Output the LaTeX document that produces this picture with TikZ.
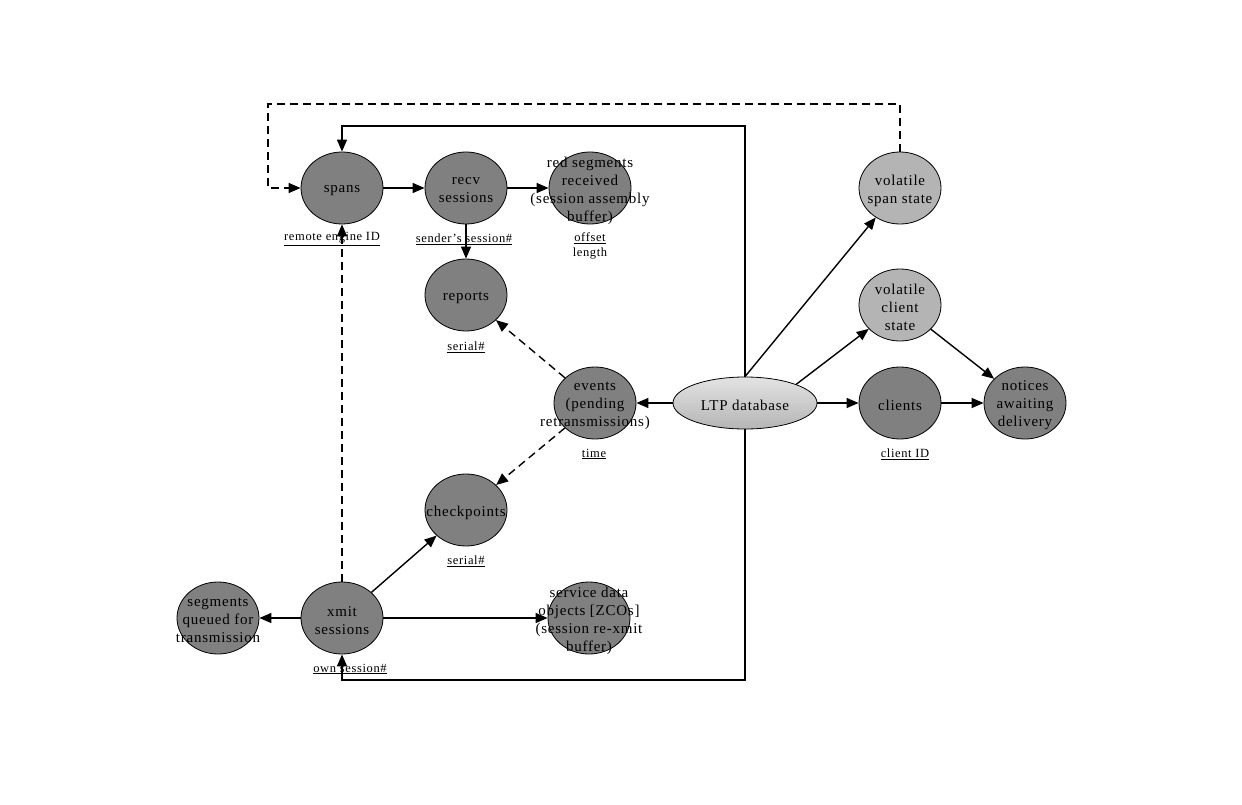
\documentclass[tikz,border=0pt]{standalone}
\usepackage{fontspec}
\setmainfont{Liberation Serif}[LetterSpace=5]
\usetikzlibrary{shapes.geometric,arrows.meta}
\definecolor{darkbub}{RGB}{128,128,128}
\definecolor{lightbub}{RGB}{180,180,180}
\begin{document}
\begin{tikzpicture}[x=1pt,y=-1pt,
  bub/.style={ellipse,draw=black,line width=0.8pt,fill=darkbub,minimum width=82pt,minimum height=72pt,inner sep=0pt},
  lbub/.style={bub,fill=lightbub},
  txt/.style={align=center,font=\fontsize{15}{18}\selectfont,inner sep=0pt,yshift=-2.5pt},
  lab/.style={font=\fontsize{12.5}{15}\selectfont,inner sep=0pt,align=center,yshift=-3pt},
  arr/.style={line width=1.4pt,-{Triangle[length=12pt,width=10pt]}},
  darr/.style={arr,dash pattern=on 8pt off 5pt}]
\useasboundingbox (0,0) rectangle (1242,805);
% nodes
\node[bub] (spans) at (342,188) {};
\node[bub] (recv) at (466,188) {};
\node[bub] (red) at (590,188) {};
\node[bub] (reports) at (466,295) {};
\node[bub] (events) at (595,403) {};
\node[ellipse,draw=black,line width=0.8pt,top color=gray!22,bottom color=gray!58,minimum width=144pt,minimum height=52pt,inner sep=0pt] (db) at (745,403) {};
\node[bub] (clients) at (900,403) {};
\node[bub] (notices) at (1025,403) {};
\node[lbub] (vclient) at (900,305) {};
\node[lbub] (vspan) at (900,188) {};
\node[bub] (check) at (466,510) {};
\node[bub] (xmit) at (342,618) {};
\node[bub] (queued) at (218,618) {};
\node[bub] (sdo) at (589,618) {};
% texts
\node[txt] (t1) at (spans) {spans};
\node[txt] (t2) at (recv) {recv\\sessions};
\node[txt] (t3) at (590,188) {red segments\\received\\(session assembly\\buffer)};
\node[txt] (t4) at (reports) {reports};
\node[txt] (t5) at (events) {events\\(pending\\retransmissions)};
\node[txt] (t6) at (db) {LTP database};
\node[txt] (t7) at (clients) {clients};
\node[txt] (t8) at (notices) {notices\\awaiting\\delivery};
\node[txt] (t9) at (vclient) {volatile\\client\\state};
\node[txt] (t10) at (vspan) {volatile\\span state};
\node[txt] (t11) at (check) {checkpoints};
\node[txt] (t12) at (xmit) {xmit\\sessions};
\node[txt] (t13) at (queued) {segments\\queued for\\transmission};
\node[txt] (t14) at (sdo) {service data\\objects [ZCOs]\\(session re-xmit\\buffer)};
% labels
\node[lab] (l1) at (332,236) {\underline{remote engine ID}};
\node[lab] (l2) at (464,236) {\underline{sender's session\#}};
\node[lab] (l3) at (590,243) {\underline{offset}\\length};
\node[lab] (l4) at (466,344) {\underline{serial\#}};
\node[lab] (l5) at (594,451) {\underline{time}};
\node[lab] (l6) at (905,451) {\underline{client ID}};
\node[lab] (l7) at (466,558) {\underline{serial\#}};
\node[lab] (l8) at (350,666) {\underline{own session\#}};
% frame coordinates
\coordinate (tr) at (745,126);
\coordinate (tl) at (342,126);
\coordinate (br) at (745,680);
\coordinate (bl) at (342,680);
\coordinate (d1) at (900,104);
\coordinate (d2) at (268,104);
\coordinate (d3) at (268,188);
% connectors
\draw[arr] (db.north) -- (tr) -- (tl) -- (spans.north);
\draw[arr] (db.south) -- (br) -- (bl) -- (xmit.south);
\draw[darr] (vspan.north) -- (d1) -- (d2) -- (d3) -- (spans.west);
\draw[darr] (xmit.north) -- (spans.south);
\draw[arr] (spans) -- (recv);
\draw[arr] (recv) -- (red);
\draw[arr] (recv) -- (reports);
\draw[darr] (events) -- (reports);
\draw[darr] (events) -- (check);
\draw[arr] (db) -- (events);
\draw[arr] (db) -- (clients);
\draw[arr] (db.north east) -- (vclient);
\draw[arr] (db.north) -- (vspan);
\draw[arr] (clients) -- (notices);
\draw[arr] (vclient) -- (notices);
\draw[arr] (xmit) -- (queued);
\draw[arr] (xmit) -- (check);
\draw[arr] (xmit) -- (sdo);
\end{tikzpicture}
\end{document}
